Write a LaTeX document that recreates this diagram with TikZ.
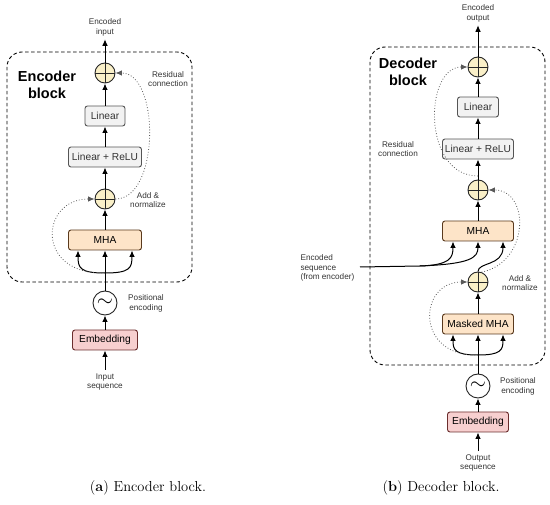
\documentclass[tikz,border=0pt]{standalone}
\usepackage{fontspec}
\setsansfont{Liberation Sans}
\usepackage{tikz}
\usetikzlibrary{arrows.meta}

\definecolor{linfill}{HTML}{F2F2F2}
\definecolor{linedge}{HTML}{555555}
\definecolor{mhafill}{HTML}{FDE4C8}
\definecolor{mhaedge}{HTML}{5A3A1E}
\definecolor{embfill}{HTML}{F7CFCF}
\definecolor{embedge}{HTML}{6B2E2E}
\definecolor{addfill}{HTML}{FAF0C8}

\tikzset{
  blk/.style={draw, rounded corners=2.5pt, line width=0.9pt, minimum height=20pt,
    inner sep=1pt, font=\sffamily\fontsize{10.2}{12}\selectfont},
  linbox/.style={blk, draw=linedge, fill=linfill, text=black!80},
  mhabox/.style={blk, draw=mhaedge, fill=mhafill},
  embbox/.style={blk, draw=embedge, fill=embfill},
  addop/.style={circle, draw=black!85, line width=0.9pt, fill=addfill, minimum size=20pt,
    inner sep=0pt, path picture={
      \draw[line width=0.8pt] (path picture bounding box.north) -- (path picture bounding box.south)
        (path picture bounding box.west) -- (path picture bounding box.east);}},
  posop/.style={circle, draw=black!85, line width=0.9pt, fill=white, minimum size=24pt,
    inner sep=0pt, font=\fontsize{20}{20}\selectfont},
  lbl/.style={font=\sffamily\fontsize{8.2}{9.8}\selectfont, align=center, text=black!80},
  blocktitle/.style={font=\sffamily\bfseries\fontsize{14.5}{16.5}\selectfont, align=center},
  capt/.style={font=\fontsize{14.5}{16}\selectfont},
  flow/.style={-{Latex[length=6.5pt,width=5.5pt]}, line width=1pt},
  resid/.style={-{Latex[length=6.5pt,width=5.5pt]}, dotted, line width=0.8pt, black!65},
  blockframe/.style={line width=0.9pt, dash pattern=on 3.5pt off 2.5pt, rounded corners=15pt},
}

\begin{document}
\begin{tikzpicture}[x=1pt,y=-1pt]
  \useasboundingbox (0,0) rectangle (550,505);

  % encoder block
  \draw[blockframe] (7,52) rectangle (192,282);
  \node[blocktitle] (etitle) at (47,85) {Encoder\\block};
  \node[lbl] (encin) at (105,27) {Encoded\\input};
  \node[addop] (eadd2) at (105,73) {};
  \node[linbox, minimum width=40pt] (elin) at (105,116) {Linear};
  \node[linbox, minimum width=73pt] (elrelu) at (105,157) {Linear + ReLU};
  \node[addop] (eadd1) at (105,199) {};
  \node[mhabox, minimum width=73pt] (emha) at (105,240) {MHA};
  \node[posop] (epos) at (105,303) {$\sim$};
  \node[embbox, minimum width=65pt] (eemb) at (105,340) {Embedding};
  \node[lbl] (einp) at (105,382) {Input\\sequence};
  \node[lbl] (eres) at (168,79) {Residual\\connection};
  \node[lbl] (eaddn) at (148,200) {Add \&\\normalize};
  \node[lbl] (epostxt) at (146,303) {Positional\\encoding};
  \coordinate (ebr) at (105,273);

  \draw[flow] (einp) -- (eemb);
  \draw[flow] (eemb) -- (epos);
  \draw[flow] (epos) -- (emha);
  \draw[flow] (ebr) .. controls (80,273) and (78,268) .. ([xshift=-27pt]emha.south);
  \draw[flow] (ebr) .. controls (130,273) and (132,268) .. ([xshift=27pt]emha.south);
  \draw[resid] (ebr) .. controls (35,275) and (40,199) .. (eadd1.west);
  \draw[flow] (emha) -- (eadd1);
  \draw[flow] (eadd1) -- (elrelu);
  \draw[flow] (elrelu) -- (elin);
  \draw[flow] (elin) -- (eadd2);
  \draw[flow] (eadd2) -- (encin);
  \draw[resid] (eadd1.east) .. controls (160,199) and (160,73) .. (eadd2.east);

  % decoder block
  \draw[blockframe] (370,47) rectangle (545,365);
  \node[blocktitle] (dtitle) at (408,72) {Decoder\\block};
  \node[lbl] (decout) at (478,13) {Encoded\\output};
  \node[addop] (dadd3) at (478,67) {};
  \node[linbox, minimum width=41pt] (dlin) at (478,107) {Linear};
  \node[linbox, minimum width=71pt] (dlrelu) at (478,149) {Linear + ReLU};
  \node[addop] (dadd2) at (478,190) {};
  \node[mhabox, minimum width=71pt] (dmha) at (478,231) {MHA};
  \node[addop] (dadd1) at (478,282) {};
  \node[mhabox, minimum width=71pt] (dmmha) at (478,324) {Masked MHA};
  \node[posop] (dpos) at (478,386) {$\sim$};
  \node[embbox, minimum width=61pt] (demb) at (478,422) {Embedding};
  \node[lbl] (dinp) at (478,463) {Output\\sequence};
  \node[lbl] (dres) at (398,149) {Residual\\connection};
  \node[lbl] (daddn) at (520,283) {Add \&\\normalize};
  \node[lbl] (dpostxt) at (518,386) {Positional\\encoding};
  \node[lbl, align=left, anchor=west] (encseq) at (297,268) {Encoded\\sequence\\(from encoder)};
  \coordinate (dbr) at (478,355);
  \coordinate (dskip) at (478,176);
  \coordinate (encsrc) at (360,267);
  \coordinate (encmid) at (420,266);

  \draw[flow] (dinp) -- (demb);
  \draw[flow] (demb) -- (dpos);
  \draw[flow] (dpos) -- (dmmha);
  \draw[flow] (dbr) .. controls (455,355) and (453,350) .. ([xshift=-25pt]dmmha.south);
  \draw[flow] (dbr) .. controls (501,355) and (503,350) .. ([xshift=25pt]dmmha.south);
  \draw[resid] (dbr) .. controls (415,357) and (418,282) .. (dadd1.west);
  \draw[flow] (dmmha) -- (dadd1);
  \draw[flow] (dadd1.north) .. controls (478,262) and (503,266) .. ([xshift=25pt]dmha.south);
  \draw[resid] (dadd1.70) .. controls (530,262) and (530,190) .. (dadd2.east);
  \draw[line width=1pt] (encsrc) -- (encmid);
  \draw[flow] (encmid) .. controls (450,265) and (453,258) .. ([xshift=-25pt]dmha.south);
  \draw[flow] (encmid) .. controls (470,264) and (478,258) .. (dmha.south);
  \draw[flow] (dmha) -- (dadd2);
  \draw[flow] (dadd2) -- (dlrelu);
  \draw[flow] (dlrelu) -- (dlin);
  \draw[flow] (dlin) -- (dadd3);
  \draw[flow] (dadd3) -- (decout);
  \draw[resid] (dskip) .. controls (422,176) and (424,67) .. (dadd3.west);

  % captions
  \node[capt] (capa) at (148,488) {(\textbf{a}) Encoder block.};
  \node[capt] (capb) at (441,488) {(\textbf{b}) Decoder block.};
\end{tikzpicture}
\end{document}
